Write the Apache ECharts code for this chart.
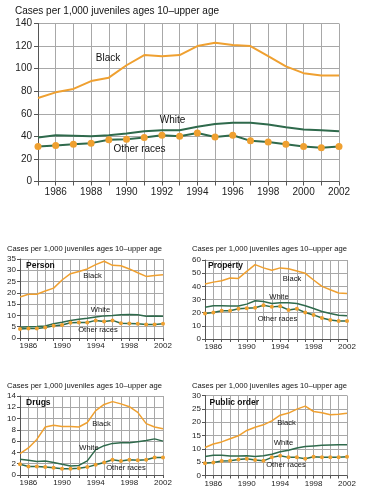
<!DOCTYPE html>
<html><head><meta charset="utf-8">
<script src="https://cdn.jsdelivr.net/npm/echarts@6/dist/echarts.min.js"></script>
<style>html,body{margin:0;padding:0;background:#fff}#c{width:369px;height:497px}</style>
</head><body><div id="c"></div>
<script>
var years = [1985,1986,1987,1988,1989,1990,1991,1992,1993,1994,1995,1996,1997,1998,1999,2000,2001,2002];

var allBlack = [74,79,82,89,92,103,112,111,112,120,123,121,120,111,102,96,94,94];
var allWhite = [39,41,40.5,40,41,42.5,44.5,45.5,45.5,48.5,51,52,52,50.5,48,46,45.5,44.5];
var allOther = [31,32,33,34,37,37.5,39,41,40,43,39.5,41,36,35,33,31,30,31];

var personBlack = [18.2,19.4,19.4,20.8,22.1,25.7,28.5,29.5,30.6,32.5,34,32.2,32,30.6,28.9,27.3,27.7,28];
var personWhite = [4.8,5,5.1,5.3,6.3,7,7.8,8.3,8.7,9.3,9.8,10,10.3,10.4,10.3,9.6,9.8,9.6];
var personOther = [4,4.2,4.2,4.6,5.4,5.8,6.8,6.9,6.9,7.8,7.3,7.8,6.5,6.4,6.3,6,6,6.3];

var propertyBlack = [41.7,43.2,44.3,46.3,46,51.4,56.5,54,52.2,54,53.4,51.7,49.9,44.8,40,37.4,34.9,34.6];
var propertyWhite = [24.2,25.2,25.2,25,25,26.5,29,28.5,27,27.5,27.5,27,25.2,23.2,20.9,19.3,18,17.6];
var propertyOther = [19.3,20.1,21.4,21.4,22.9,23.4,23.7,25.7,24.4,24.9,22.1,22.9,20.1,18.3,16,14.5,13.7,13.7];

var drugsBlack = [3.8,4.8,6.3,8.5,8.8,8.6,8.6,8.5,9.3,11.4,12.5,13,12.6,12.1,11.1,9.1,8.5,8.2];
var drugsWhite = [2.8,2.6,2.4,2.5,2.2,1.9,1.6,1.7,2.5,4.5,5.2,5.6,5.7,5.7,5.9,6.1,6.4,6];
var drugsOther = [1.9,1.5,1.5,1.4,1.3,1.1,1.1,1.2,1.4,1.8,2.2,2.7,2.5,2.7,2.6,2.7,3.1,3.1];

var publicBlack = [10.5,11.8,12.6,13.8,14.9,16.9,18.1,19,20.5,22.6,23.4,24.9,26,24,23.5,22.8,23,23.3];
var publicWhite = [7.1,7.6,7.6,7.3,7.3,7.4,7.1,7.4,8,8.9,9.5,10.3,10.9,11.1,11.3,11.4,11.5,11.5];
var publicOther = [4.6,4.9,5.4,5.5,6,6.3,5.8,5.5,6.8,7.4,6.8,6.8,6.3,7,6.8,6.8,6.8,7];

var mainXLabels = [1986,1988,1990,1992,1994,1996,1998,2000,2002];
var smallXLabels = [1986,1990,1994,1998,2002];
var yMax = [140,35,60,14,30];
var yStep = [20,5,10,2,5];
var panelNames = ['', 'Person', 'Property', 'Drugs', 'Public order'];
var yTitle = 'Cases per 1,000 juveniles ages 10\u2013upper age';

var ORANGE = '#EFA030', GREEN = '#2F6A4C', GRID = '#a8a8a8', AXIS = '#555';
var FONT = 'Liberation Sans, Arial, sans-serif';

var grids = [
  {left:38, top:23.5, width:301, height:158},
  {left:20, top:259, width:143, height:79},
  {left:205, top:260, width:142, height:79},
  {left:20, top:396, width:143, height:79},
  {left:205, top:395.5, width:142, height:80}
];
var datasets = [
  [allBlack, allWhite, allOther],
  [personBlack, personWhite, personOther],
  [propertyBlack, propertyWhite, propertyOther],
  [drugsBlack, drugsWhite, drugsOther],
  [publicBlack, publicWhite, publicOther]
];

var xAxes = [], yAxes = [], series = [];
grids.forEach(function(g, i){
  var big = i === 0;
  var labs = big ? mainXLabels : smallXLabels;
  xAxes.push({
    type:'value', gridIndex:i, min:1985, max:2002, interval:1,
    axisLine:{show:true, lineStyle:{color:AXIS, width:1}},
    axisTick:{show:true, length: big?4:3, lineStyle:{color:AXIS}},
    splitLine:{show:true, lineStyle:{color:GRID, width:1}},
    axisLabel:{fontFamily:FONT, fontSize: big?10:8, color:'#222', margin: big?6:4,
      formatter:function(v){ return labs.indexOf(v) >= 0 ? String(v) : ''; }}
  });
  yAxes.push({
    type:'value', gridIndex:i, min:0, max:yMax[i], interval:yStep[i],
    axisLine:{show:true, lineStyle:{color:AXIS, width:1}},
    axisTick:{show:true, length: big?4:3, lineStyle:{color:AXIS}},
    splitLine:{show:true, lineStyle:{color:GRID, width:1}},
    axisLabel:{fontFamily:FONT, fontSize: big?10:8, color:'#222', margin: big?6:4}
  });
  var d = datasets[i];
  var lw = big ? 2 : 1.5;
  function pts(arr){ return arr.map(function(v,k){ return [years[k], v]; }); }
  series.push({type:'line', xAxisIndex:i, yAxisIndex:i, data:pts(d[0]), showSymbol:false, symbol:'none',
    lineStyle:{color:ORANGE, width:lw}, z:3, silent:true});
  series.push({type:'line', xAxisIndex:i, yAxisIndex:i, data:pts(d[1]), showSymbol:false, symbol:'none',
    lineStyle:{color:GREEN, width:lw}, z:3, silent:true});
  series.push({type:'line', xAxisIndex:i, yAxisIndex:i, data:pts(d[2]), symbol:'circle', symbolSize: big?7:4,
    itemStyle:{color:ORANGE, borderWidth:0}, lineStyle:{color:GREEN, width:lw}, z:4, silent:true});
});

function txt(x, y, s, size, bold, align){
  return {type:'text', left:x, top:y, style:{text:s, x:0, y:0, fill:'#111', fontFamily:FONT, fontSize:size,
    fontWeight: bold?'bold':'normal', textVerticalAlign:'middle', textAlign: align||'left'}};
}
function ctext(cx, cy, s, size){
  return {type:'text', x:cx, y:cy, style:{text:s, fill:'#111', fontFamily:FONT, fontSize:size,
    textAlign:'center', textVerticalAlign:'middle'}, z:10};
}
function ltext(x, cy, s, size, bold){
  return {type:'text', x:x, y:cy, style:{text:s, fill:'#111', fontFamily:FONT, fontSize:size,
    fontWeight: bold?'bold':'normal', textAlign:'left', textVerticalAlign:'middle'}, z:10};
}

var graphics = [
  ltext(15, 11, yTitle, 10),
  ctext(108, 58, 'Black', 10),
  ctext(172.5, 120.5, 'White', 10),
  ctext(139.5, 149.5, 'Other races', 10),

  ltext(7, 248.5, yTitle, 7.6),
  ltext(26, 265.5, 'Person', 8.5, true),
  ctext(92.5, 276, 'Black', 7.6),
  ctext(100.5, 310, 'White', 7.6),
  ctext(98, 330, 'Other races', 7.6),

  ltext(192, 248.5, yTitle, 7.6),
  ltext(208, 265.5, 'Property', 8.5, true),
  ctext(292, 279, 'Black', 7.6),
  ctext(279, 296.5, 'White', 7.6),
  ctext(277.5, 318.5, 'Other races', 7.6),

  ltext(7, 385.5, yTitle, 7.6),
  ltext(26, 402.5, 'Drugs', 8.5, true),
  ctext(101.5, 423.5, 'Black', 7.6),
  ctext(89, 447.5, 'White', 7.6),
  ctext(126, 468, 'Other races', 7.6),

  ltext(192, 385.5, yTitle, 7.6),
  ltext(209.5, 402.5, 'Public order', 8.5, true),
  ctext(286.5, 422.5, 'Black', 7.6),
  ctext(283.5, 443, 'White', 7.6),
  ctext(286, 465, 'Other races', 7.6)
];

var chart = echarts.init(document.getElementById('c'), null, {renderer:'canvas'});
chart.setOption({
  animation:false,
  backgroundColor:'#fff',
  grid: grids,
  xAxis: xAxes,
  yAxis: yAxes,
  series: series,
  graphic: graphics
});
</script></body></html>
